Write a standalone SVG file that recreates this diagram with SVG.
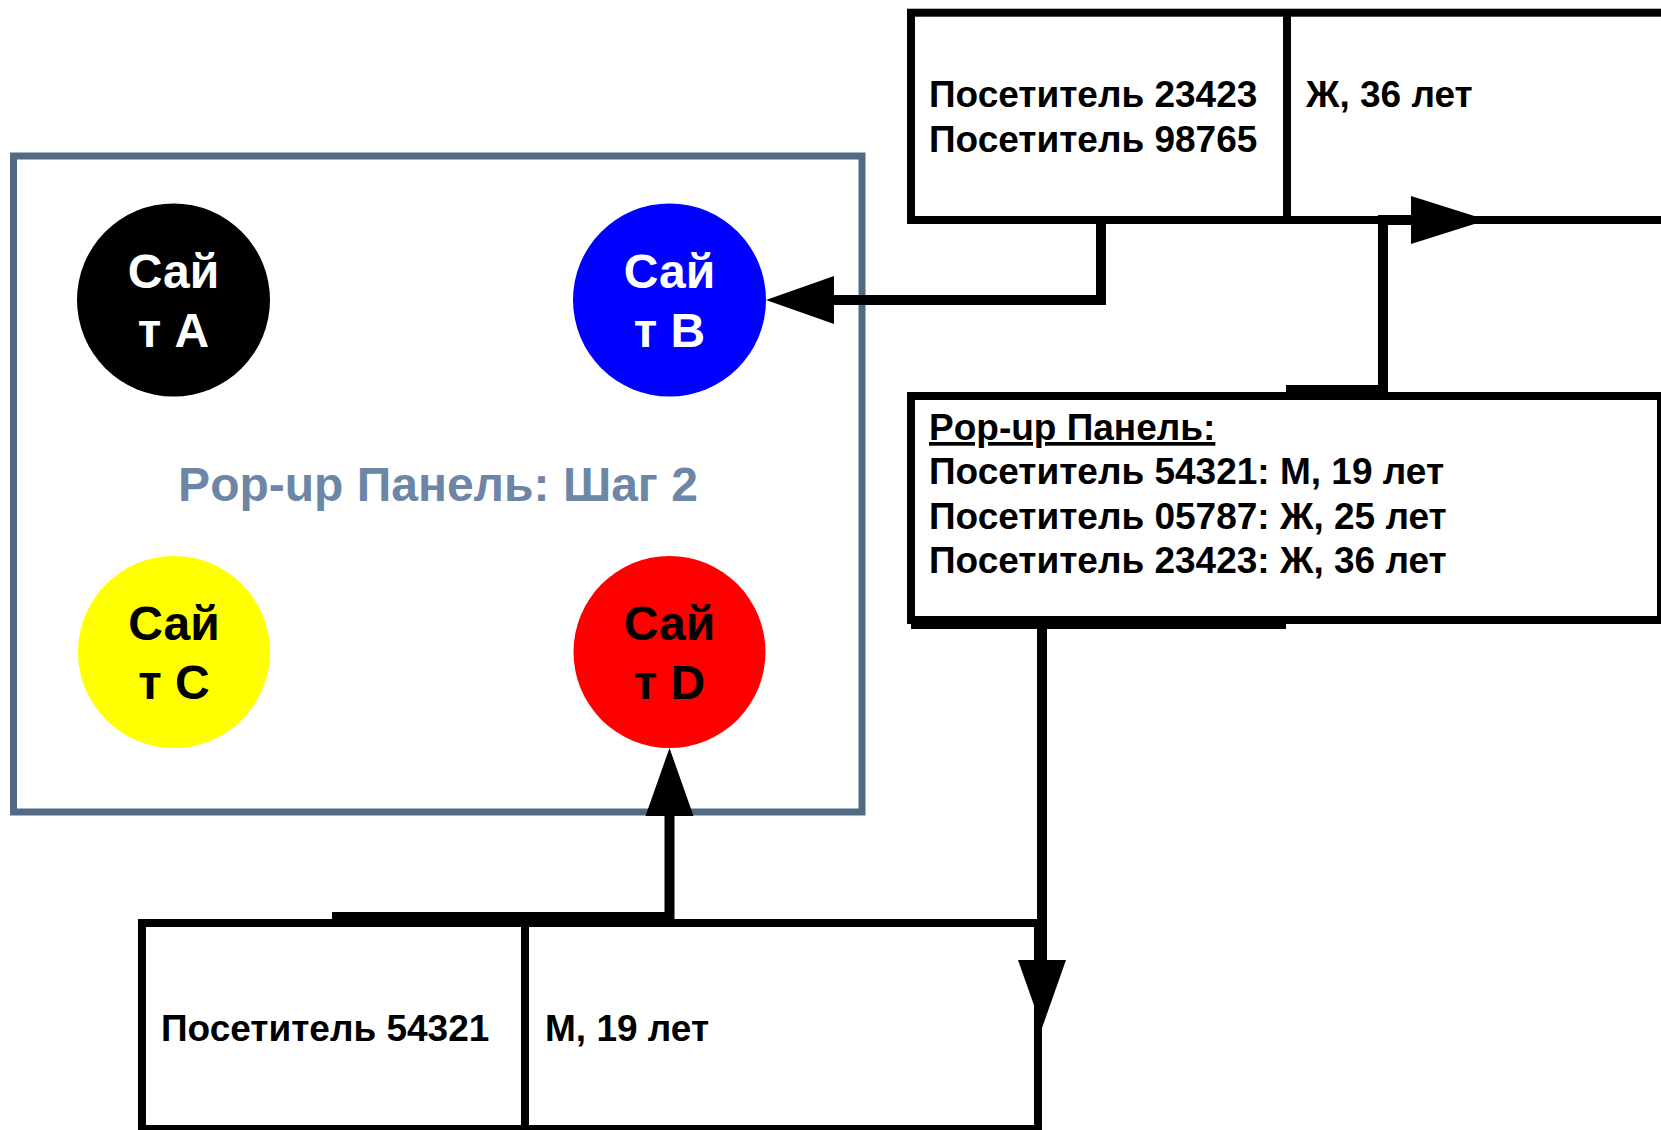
<svg xmlns="http://www.w3.org/2000/svg" width="1661" height="1130" viewBox="0 0 1661 1130">
<style>
  text { font-family: "Liberation Sans", Arial, sans-serif; font-weight: bold; }
  .cell { fill: #ffffff; stroke: #000000; stroke-width: 8; }
  .div { stroke: #000000; stroke-width: 8; }
  .t36 { font-size: 37px; fill: #000000; }
  .t48 { font-size: 48px; text-anchor: middle; }
  .conn { fill: none; stroke: #000000; stroke-width: 10; }
</style>
<defs>
  <marker id="arrow" markerUnits="userSpaceOnUse" markerWidth="70" markerHeight="50" refX="0" refY="24" orient="auto" overflow="visible">
    <path d="M0,0 L68,24 L0,48 Z" fill="#000000"/>
  </marker>
  <marker id="arrowLong" markerUnits="userSpaceOnUse" markerWidth="80" markerHeight="50" refX="0" refY="24" orient="auto" overflow="visible">
    <path d="M0,0 L76,24 L0,48 Z" fill="#000000"/>
  </marker>
</defs>
<rect width="1661" height="1130" fill="#ffffff"/>

<g id="panel">
  <rect x="13.5" y="156" width="848.5" height="656" fill="#ffffff" stroke="#536A84" stroke-width="7"/>
  <text x="438" y="501" class="t48" fill="#6D86A6">Pop-up Панель: Шаг 2</text>
</g>

<g id="siteA">
  <circle cx="173.5" cy="300" r="96.5" fill="#000000"/>
  <text x="173.5" y="288" class="t48" fill="#ffffff">Сай</text>
  <text x="173.5" y="347" class="t48" fill="#ffffff">т A</text>
</g>
<g id="siteB">
  <circle cx="669.5" cy="300" r="96.5" fill="#0000FF"/>
  <text x="669.5" y="288" class="t48" fill="#ffffff">Сай</text>
  <text x="669.5" y="347" class="t48" fill="#ffffff">т B</text>
</g>
<g id="siteC">
  <circle cx="174" cy="652" r="96" fill="#FFFF00"/>
  <text x="174" y="640" class="t48" fill="#000000">Сай</text>
  <text x="174" y="699" class="t48" fill="#000000">т C</text>
</g>
<g id="siteD">
  <circle cx="669.5" cy="652" r="96" fill="#FF0000"/>
  <text x="669.5" y="640" class="t48" fill="#000000">Сай</text>
  <text x="669.5" y="699" class="t48" fill="#000000">т D</text>
</g>

<g id="visitorsTop">
  <rect x="911" y="12.7" width="800" height="207.3" class="cell"/>
  <line x1="1287" y1="12.7" x2="1287" y2="220" class="div"/>
  <text x="929" y="107" class="t36">Посетитель 23423</text>
  <text x="929" y="152" class="t36">Посетитель 98765</text>
  <text x="1306" y="107" class="t36">Ж, 36 лет</text>
</g>

<g id="popupList">
  <rect x="911" y="396" width="750" height="224" class="cell"/>
  <text x="929" y="440" class="t36" text-decoration="underline">Pop-up Панель:</text>
  <text x="929" y="484" class="t36">Посетитель 54321: М, 19 лет</text>
  <text x="929" y="528.5" class="t36">Посетитель 05787: Ж, 25 лет</text>
  <text x="929" y="573" class="t36">Посетитель 23423: Ж, 36 лет</text>
</g>

<g id="visitorBottom">
  <rect x="142" y="923" width="896" height="206" class="cell"/>
  <line x1="525" y1="923" x2="525" y2="1129" class="div"/>
  <text x="161" y="1041" class="t36">Посетитель 54321</text>
  <text x="545" y="1041" class="t36">М, 19 лет</text>
</g>

<g id="connectors">
  <path class="conn" d="M1101,220 V300 H834" marker-end="url(#arrow)"/>
  <path class="conn" d="M1286,390 H1383 V220 H1411" marker-end="url(#arrowLong)"/>
  <path class="conn" d="M911,624 H1286"/>
  <path class="conn" d="M1286,624 H1042 V960" marker-end="url(#arrow)"/>
  <path class="conn" d="M332,917 H669.5 V816" marker-end="url(#arrow)"/>
</g>
</svg>
